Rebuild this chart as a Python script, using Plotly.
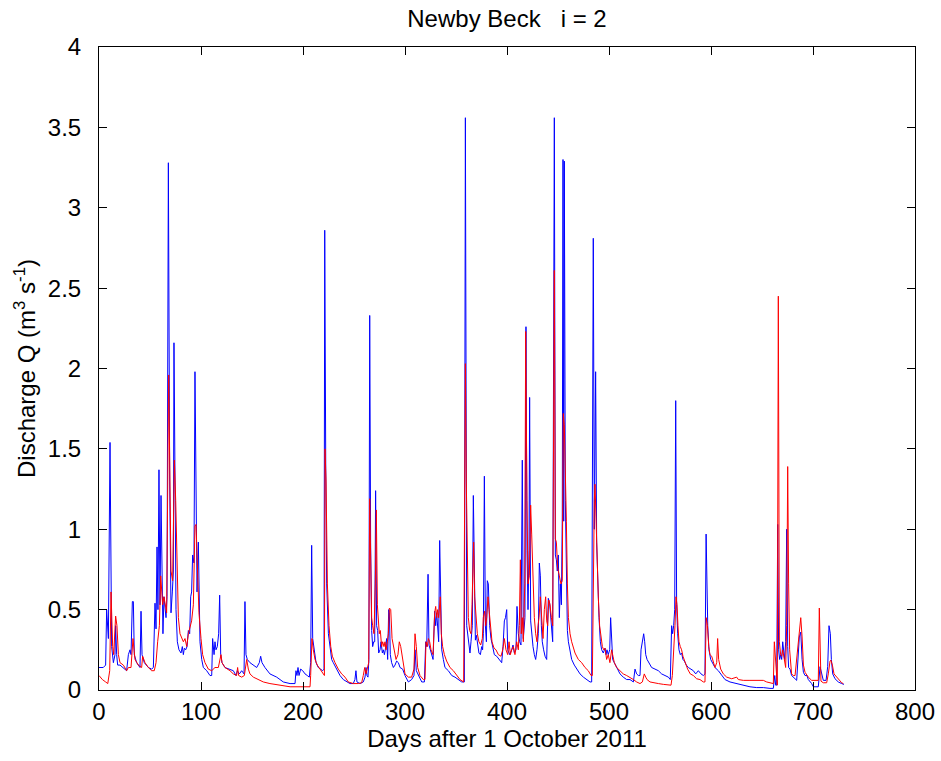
import plotly.graph_objects as go

# ---- data (day after 1 Oct 2011, discharge m3/s) ----
blue_day = [0, 4.2, 6.5, 7.5, 9.2, 10.8, 12.4, 14.1, 15.7, 16.3, 17.3, 18.3, 20.6, 23.9, 27.1, 28.8, 30.4, 31.4,
            32.7, 33.7, 34.6, 36.9, 40.2, 41.2, 42.2, 44.4, 48.4, 51.6, 53.3, 54.9, 55.9, 56.9, 57.8, 58.8, 59.8,
            60.8, 61.8, 62.7, 63.7, 64.7, 65.7, 66.7, 68.0, 69.3, 70.6, 71.9, 72.9, 73.5, 74.5, 75.5, 76.8, 78.4,
            80.4, 81.7, 82.7, 83.7, 85, 86.3, 87.6, 88.9, 89.9, 90.8, 91.8, 93.1, 94.1, 95.1, 96.1, 97.4, 99,
            100.7, 102.3, 105.6, 108.8, 110.5, 111.4, 112.8, 113.7, 114.7, 116, 117.3, 118.3, 119.3, 120.6, 123.5,
            128.4, 131.7, 134.3, 135.6, 137.6, 139.9, 142.2, 143.1, 144.1, 145.4, 148, 151.3, 154.6, 157.2, 158.5,
            159.8, 162.7, 167.6, 174.2, 180.7, 187.3, 192.2, 193.1, 194.1, 195.1, 196.1, 197.7, 199.7, 202, 204.2,
            206.2, 207.5, 208.5, 209.5, 210.8, 212.8, 215, 217.3, 219.3, 220.6, 221.3, 222.3, 223.2, 224.9, 226.5,
            228.1, 229.7, 233, 236.3, 239.5, 242.8, 246, 249.3, 250.9, 251.9, 252.9, 255.9, 259.1, 260.8, 261.8,
            262.7, 263.7, 264.6, 265.4, 266.3, 267.3, 268.3, 269.3, 270.3, 271.2, 272.2, 273.2, 274.2, 275.5, 276.5,
            277.8, 278.8, 279.8, 280.7, 282, 283, 284, 284.7, 285.6, 286.9, 288.6, 290.2, 291.8, 293.5, 295.1,
            297.7, 300, 303.3, 306.5, 308.8, 309.8, 311.1, 313.1, 316.4, 319, 320.3, 321.3, 322.6, 323.5, 324.8,
            326.1, 327.5, 329.1, 330.1, 331.1, 332, 333, 334, 335, 336, 337.6, 339.2, 342.5, 345.8, 349, 352.3,
            355.6, 358.2, 359.2, 360.5, 362.1, 363.7, 364.7, 366, 367, 368, 369, 370, 371.3, 372.5, 373.9, 375.2,
            376.1, 376.8, 377.8, 378.8, 379.8, 380.7, 381.7, 383, 384.3, 386, 387.6, 389.9, 392.5, 394.8, 396.1,
            397.4, 398.5, 399.7, 400.7, 402.6, 404.6, 405.9, 407.2, 408.8, 409.8, 411.1, 412.4, 413.7, 415, 416,
            417.6, 418.6, 419.6, 420.6, 421.6, 422.2, 423.2, 424.2, 425.5, 426.8, 428.1, 429.4, 430.7, 431.7, 432.7,
            433.7, 434.6, 435.9, 437.3, 438.9, 440.5, 441.8, 442.8, 443.8, 444.8, 446.4, 447.4, 448.4, 449.3, 450.3,
            451.3, 452.3, 453.3, 454.2, 454.9, 455.6, 456.2, 457.2, 458.2, 459.2, 460.2, 461.8, 463.4, 466, 468.3,
            471.6, 474.9, 478.1, 481.4, 483, 484.6, 485.6, 486.9, 487.9, 488.9, 490.2, 491.5, 492.8, 494.4, 496.1,
            497.1, 498, 499.3, 500.7, 501.6, 502.6, 503.6, 505.2, 507.5, 510.8, 514, 517.3, 520.6, 523.9, 525.5,
            527.1, 528.8, 530.4, 531.4, 532.7, 534, 535, 536, 537.3, 539.2, 541.8, 545.1, 548.4, 551.6, 554.9,
            558.2, 560.1, 561.4, 562.4, 563.4, 564.4, 565.4, 566.3, 567.3, 568.6, 569.9, 571.2, 572.5, 573.9, 575.8,
            577.8, 580.4, 582.7, 585, 587.6, 590.2, 592.5, 594.1, 595.2, 596.8, 598, 599.7, 601.6, 603.9, 607.2,
            610.5, 613.7, 618.6, 625.2, 631.7, 638.2, 644.8, 651.3, 657.8, 661.1, 662.5, 663.4, 664.4, 665.4, 666.3,
            667.3, 668.3, 669.3, 670.3, 671.2, 672.2, 673.2, 674.2, 675.2, 676.1, 677.5, 679, 682.4, 684, 686.6,
            688, 689.3, 690.6, 692.2, 694, 695.4, 698.7, 700.3, 705.2, 706.9, 708.5, 710.1, 712.8, 714.4, 715.7,
            717, 718, 719.3, 721.6, 724.8, 728.1, 730.4]
blue_q = [0.14, 0.14, 0.155, 0.5, 0.32, 1.54, 0.27, 0.17, 0.22, 0.4, 0.22, 0.155, 0.155, 0.14, 0.12, 0.22, 0.25, 0.22,
          0.55, 0.55, 0.22, 0.17, 0.14, 0.49, 0.22, 0.17, 0.14, 0.13, 0.14, 0.54, 0.38, 0.89, 0.5, 1.37, 0.53,
          1.21, 0.48, 0.35, 0.58, 0.5, 0.45, 0.58, 3.28, 1.3, 0.48, 0.61, 0.74, 2.16, 0.95, 0.5, 0.3, 0.25,
          0.23, 0.27, 0.22, 0.26, 0.25, 0.27, 0.37, 0.35, 0.58, 0.61, 0.84, 0.79, 1.98, 1.28, 0.61, 0.92, 0.3,
          0.19, 0.14, 0.12, 0.09, 0.09, 0.32, 0.22, 0.3, 0.25, 0.27, 0.35, 0.59, 0.22, 0.17, 0.14,
          0.13, 0.12, 0.09, 0.12, 0.1, 0.12, 0.1, 0.55, 0.22, 0.19, 0.17, 0.155, 0.14, 0.17, 0.21,
          0.17, 0.14, 0.1, 0.08, 0.05, 0.04, 0.04, 0.12, 0.09, 0.14, 0.09, 0.13, 0.12, 0.1, 0.09,
          0.08, 0.17, 0.9, 0.32, 0.25, 0.17, 0.14, 0.13, 0.12, 0.13, 2.86, 1.38, 0.66, 0.35, 0.25,
          0.19, 0.17, 0.13, 0.09, 0.065, 0.05, 0.04, 0.04, 0.065, 0.12, 0.05, 0.04, 0.05, 0.08, 0.14,
          0.09, 0.08, 0.19, 2.33, 0.92, 0.37, 0.27, 0.3, 0.3, 1.24, 0.4, 0.37, 0.23, 0.25, 0.3,
          0.23, 0.25, 0.22, 0.25, 0.32, 0.19, 0.5, 0.48, 0.22, 0.17, 0.14, 0.155, 0.18, 0.17, 0.14,
          0.13, 0.09, 0.05, 0.065, 0.09, 0.25, 0.12, 0.09, 0.05, 0.05, 0.3, 0.27, 0.72, 0.28, 0.25,
          0.22, 0.19, 0.49, 0.4, 0.48, 0.35, 0.3, 0.93, 0.4, 0.25, 0.19, 0.14, 0.12, 0.09, 0.08, 0.065,
          0.05, 0.05, 3.56, 0.4, 0.3, 0.23, 0.3, 0.4, 1.21, 0.56, 0.31, 0.34, 0.27, 0.23, 0.22, 0.27,
          0.25, 0.35, 1.33, 0.4, 0.3, 0.68, 0.66, 0.4, 0.32, 0.26, 0.22, 0.21, 0.19, 0.17, 0.27,
          0.43, 0.45, 0.5, 0.25, 0.22, 0.25, 0.28, 0.23, 0.25, 0.52, 0.35, 0.3, 0.28, 1.43, 0.32,
          0.45, 2.26, 0.87, 0.5, 0.87, 1.82, 0.43, 0.34, 0.27, 0.22, 0.19, 0.25, 0.35, 0.79, 0.71,
          0.4, 0.3, 0.25, 0.21, 0.19, 0.57, 0.54, 0.45, 0.35, 0.3, 3.56, 0.84, 0.81, 0.74, 0.84,
          0.45, 0.66, 0.53, 1.07, 3.3, 1.05, 3.29, 1.18, 0.66, 0.37, 0.3, 0.23, 0.19, 0.155, 0.13,
          0.1, 0.08, 0.065, 0.05, 0.05, 2.81, 1.0, 1.98, 0.92, 0.66, 0.45, 0.3, 0.25, 0.23, 0.26,
          0.22, 0.25, 0.22, 0.25, 0.45, 0.25, 0.19, 0.17, 0.14, 0.1, 0.08, 0.065, 0.065, 0.05, 0.13,
          0.1, 0.09, 0.09, 0.25, 0.3, 0.35, 0.3, 0.22, 0.19, 0.17, 0.14, 0.13, 0.12, 0.1, 0.09,
          0.08, 0.065, 0.4, 0.35, 0.4, 0.5, 1.8, 0.53, 0.35, 0.25, 0.22, 0.23, 0.19, 0.18, 0.155,
          0.14, 0.13, 0.12, 0.1, 0.12, 0.1, 0.09, 0.1, 0.97, 0.4, 0.25, 0.19, 0.17, 0.14, 0.12,
          0.09, 0.065, 0.05, 0.04, 0.03, 0.02, 0.015, 0.015, 0.01, 0.01, 0.09, 0.03, 0.03, 1.03, 0.25,
          0.19, 0.22, 0.19, 0.3, 0.22, 0.19, 0.3, 1.0, 0.27, 0.14, 0.13, 0.09, 0.07, 0.06, 0.33,
          0.36, 0.19, 0.11, 0.09, 0.09, 0.065, 0.04, 0.02, 0.02, 0.145, 0.09, 0.06, 0.06, 0.145, 0.4,
          0.35, 0.19, 0.1, 0.07, 0.05, 0.04, 0.035]

red_day = [0, 3.3, 6.5, 8.6, 10.5, 11.8, 13.4, 14.4, 16.3, 17.6, 19, 20.6, 23.9, 27.1, 28.8, 31.4, 33.3, 35.3, 38.6,
           41.8, 42.8, 45.1, 48.4, 51.6, 54.2, 55.9, 57.5, 59.2, 60.5, 61.4, 62.4, 63.7, 65.4, 66.3, 68.3, 69.3,
           70.6, 72.2, 73.9, 75.2, 76.5, 77.8, 79.4, 81.1, 82.7, 84.3, 86, 87.6, 89.2, 90.8, 92.5, 94.1, 95.1,
           96.4, 98, 100, 101.6, 103.9, 107.2, 110.5, 113.7, 117, 118.6, 119.6, 120.6, 123.5, 128.4, 131.7, 134.9,
           135.9, 136.9, 139.9, 142.5, 143.8, 144.8, 146.4, 148, 151.3, 156.2, 161.1, 167.6, 177.5, 187.3, 197.1,
           206.9, 207.5, 208.8, 210.1, 211.8, 214, 216.7, 219.9, 221, 221.6, 222.6, 223.9, 225.5, 227.2, 228.8,
           231.4, 234.6, 237.9, 241.2, 244.4, 249.3, 254.2, 257.5, 259.1, 260.5, 261.8, 263.4, 264.4, 265.4, 266.3,
           267.3, 268.3, 269.6, 270.9, 271.9, 272.9, 273.9, 274.8, 275.8, 277.1, 278.1, 279.4, 280.4, 281.4, 282.7,
           283.7, 284.7, 286, 287.3, 289.2, 291.2, 293.1, 294.4, 295.8, 297.1, 299, 300, 303.3, 306.5, 308.8,
           309.8, 311.1, 312.4, 314.7, 318, 319.6, 320.6, 321.9, 322.9, 324.2, 325.5, 327.5, 329.1, 330.1, 331.1,
           332, 333, 334.6, 335.6, 336.9, 338.6, 340.8, 344.1, 347.4, 350.6, 353.9, 357.5, 359.2, 360.1, 361.1,
           362.1, 363.4, 364.7, 365.7, 367.3, 368.3, 369.6, 370.9, 372.5, 374.2, 375.8, 376.8, 378.1, 379.1, 380.1,
           381.4, 382.4, 383.7, 385.3, 387.3, 389.2, 391.5, 394.1, 395.8, 397.4, 399, 400.7, 402, 403.3, 404.6,
           406.2, 407.8, 409.5, 411.1, 412.1, 413.1, 414, 415, 416, 417.4, 418.3, 419.6, 420.6, 421.9, 423.2, 424.2,
           425.5, 426.8, 428.1, 429.4, 430.4, 431.4, 432.7, 434, 435.3, 436.6, 437.9, 438.9, 439.9, 440.9, 442.2,
           443.5, 444.8, 446.4, 447.4, 448.4, 449.7, 451.3, 452.9, 454.2, 455.2, 456.2, 457.2, 458.2, 459.2, 460.2,
           461.8, 463.4, 466.7, 469.9, 473.2, 476.5, 479.7, 482.4, 483.7, 484.6, 485.6, 486.3, 487.3, 488.2, 489.5,
           490.8, 492.2, 493.5, 494.8, 496.1, 497.7, 499.3, 500.9, 502.6, 503.9, 505.2, 507.5, 510.8, 514, 517.3,
           520.6, 523.9, 527.1, 530.4, 532.7, 534.6, 536, 537.3, 540.2, 543.5, 548.4, 553.3, 558.2, 560.8, 562.1,
           563.4, 564.7, 565.7, 566.7, 567.6, 568.6, 569.9, 571.2, 572.5, 574.5, 577.1, 579.7, 582.7, 585.9, 589.2,
           592.5, 594.1, 595.3, 596.5, 597.8, 599, 600.7, 602.3, 603.9, 605.6, 606.5, 607.5, 609.5, 612.1, 615.4,
           620.3, 625.2, 626.8, 631.7, 638.2, 644.8, 651.3, 654.6, 659.5, 661.1, 662.1, 663.1, 664.1, 665, 666, 667,
           668.3, 669.3, 670.3, 671.2, 672.2, 673.2, 674.2, 675.2, 676.1, 677.1, 679, 680.7, 682.4, 684.6, 686.5,
           688, 689.3, 690.6, 692.2, 695.4, 698.7, 702, 705.2, 706.2, 707.2, 707.8, 710.1, 713.4, 715, 716.7, 717.6,
           719, 720.6, 723.2, 725.8, 728.1, 729.7]
red_q = [0.09, 0.065, 0.05, 0.04, 0.12, 0.61, 0.27, 0.22, 0.46, 0.4, 0.22, 0.17, 0.155, 0.12, 0.14, 0.14, 0.32, 0.19, 0.155,
         0.14, 0.21, 0.17, 0.14, 0.12, 0.12, 0.17, 0.3, 0.4, 0.71, 0.61, 0.53, 0.58, 0.5, 0.48, 1.96, 1.28,
         0.74, 0.68, 1.43, 1.18, 0.79, 0.45, 0.35, 0.32, 0.3, 0.32, 0.27, 0.35, 0.4, 0.43, 0.53, 1.02, 1.03,
         0.76, 0.48, 0.32, 0.22, 0.17, 0.13, 0.12, 0.14, 0.14, 0.19, 0.22, 0.17, 0.14, 0.12, 0.1, 0.09,
         0.14, 0.09, 0.08, 0.09, 0.14, 0.19, 0.13, 0.1, 0.08, 0.065, 0.05, 0.04, 0.03, 0.02, 0.02,
         0.02, 0.09, 0.32, 0.25, 0.19, 0.155, 0.13, 0.1, 0.09, 1.5, 1.3, 0.66, 0.4, 0.27, 0.21,
         0.17, 0.13, 0.1, 0.08, 0.05, 0.04, 0.04, 0.045, 0.09, 0.14, 0.1, 0.14, 0.17, 1.19, 0.74,
         0.45, 0.4, 0.35, 0.66, 1.12, 0.53, 0.45, 0.35, 0.37, 0.27, 0.3, 0.27, 0.3, 0.25, 0.3,
         0.35, 0.51, 0.5, 0.32, 0.25, 0.19, 0.22, 0.3, 0.27, 0.21, 0.155, 0.1, 0.08, 0.08, 0.13,
         0.35, 0.27, 0.14, 0.09, 0.065, 0.065, 0.3, 0.27, 0.32, 0.3, 0.25, 0.22, 0.48, 0.52, 0.45,
         0.5, 0.45, 0.58, 0.35, 0.27, 0.22, 0.18, 0.14, 0.12, 0.09, 0.065, 0.05, 2.03, 1.3, 0.66,
         0.45, 0.37, 0.35, 0.53, 0.92, 0.58, 0.43, 0.35, 0.3, 0.28, 0.32, 0.45, 0.49, 0.4, 0.45,
         0.58, 0.5, 0.39, 0.3, 0.26, 0.25, 0.22, 0.21, 0.25, 0.32, 0.25, 0.22, 0.3, 0.22, 0.25,
         0.27, 0.22, 0.3, 0.25, 0.4, 0.81, 0.35, 0.45, 0.3, 0.66, 2.23, 1.18, 0.66, 0.71, 1.15, 0.97,
         0.71, 0.45, 0.35, 0.3, 0.4, 0.45, 0.58, 0.4, 0.32, 0.5, 0.58, 0.43, 0.4, 0.56, 0.53,
         0.45, 0.4, 2.61, 0.94, 0.92, 0.76, 0.71, 0.66, 0.68, 1.72, 1.65, 1.43, 1.05, 0.66, 0.45,
         0.35, 0.3, 0.23, 0.19, 0.17, 0.14, 0.12, 0.09, 0.09, 0.79, 1.18, 1.28, 1.05, 0.79, 0.58,
         0.4, 0.32, 0.27, 0.25, 0.26, 0.19, 0.22, 0.17, 0.25, 0.21, 0.17, 0.14, 0.12, 0.1, 0.09,
         0.08, 0.065, 0.05, 0.04, 0.05, 0.1, 0.08, 0.065, 0.05, 0.045, 0.04, 0.035, 0.03, 0.03, 0.09,
         0.22, 0.4, 0.58, 0.53, 0.4, 0.3, 0.27, 0.25, 0.21, 0.17, 0.13, 0.1, 0.09, 0.07, 0.065,
         0.05, 0.05, 0.45, 0.4, 0.27, 0.22, 0.21, 0.17, 0.14, 0.17, 0.32, 0.19, 0.13, 0.1, 0.08,
         0.07, 0.08, 0.065, 0.06, 0.06, 0.06, 0.06, 0.05, 0.04, 0.04, 0.3, 0.22, 0.09, 0.03, 2.45, 0.3,
         0.22, 0.21, 0.25, 0.21, 0.19, 0.14, 0.4, 1.39, 0.66, 0.25, 0.1, 0.09, 0.09, 0.25, 0.35,
         0.45, 0.33, 0.155, 0.11, 0.08, 0.06, 0.06, 0.06, 0.51, 0.31, 0.055, 0.045, 0.045, 0.1, 0.18, 0.185,
         0.155, 0.1, 0.08, 0.06, 0.045, 0.04]

x_ticks = [0, 100, 200, 300, 400, 500, 600, 700, 800]
y_ticks = [0, 0.5, 1, 1.5, 2, 2.5, 3, 3.5, 4]

title_text = "Newby Beck\u00a0\u00a0\u00a0i = 2"
x_label = "Days after 1 October 2011"
y_label = "Discharge Q (m<sup>3</sup> s<sup>-1</sup>)"

FONT = "Arial, 'Liberation Sans', Helvetica, sans-serif"
FS = 24

fig = go.Figure()
fig.add_trace(go.Scatter(x=blue_day, y=blue_q, mode="lines",
                         line=dict(color="#0000ff", width=1), name="blue", hoverinfo="skip"))
fig.add_trace(go.Scatter(x=red_day, y=red_q, mode="lines",
                         line=dict(color="#ff0000", width=1), name="red", hoverinfo="skip"))

fig.update_layout(
    width=941, height=761,
    margin=dict(l=99, r=26, t=47, b=71, autoexpand=False),
    paper_bgcolor="white", plot_bgcolor="white",
    showlegend=False,
    font=dict(family=FONT, size=FS, color="black"),
    title=dict(text=title_text, x=0.5, xref="paper", xanchor="center",
               y=1 - 19 / 761, yref="container", yanchor="middle",
               font=dict(family=FONT, size=FS, color="black")),
)
axis_common = dict(showline=True, linecolor="black", linewidth=1, mirror="ticks",
                   ticks="inside", ticklen=8, tickwidth=1, tickcolor="black",
                   showgrid=False, zeroline=False, automargin=False,
                   tickfont=dict(family=FONT, size=FS, color="black"))
fig.update_xaxes(range=[0, 800], tickvals=x_ticks, ticktext=[str(v) for v in x_ticks],
                 ticklabelstandoff=0,
                 title=dict(text=x_label, standoff=3, font=dict(family=FONT, size=FS)),
                 **axis_common)
fig.update_yaxes(range=[0, 4], tickvals=y_ticks, ticktext=[f"{v:g}" for v in y_ticks],
                 ticklabelstandoff=12,
                 title=dict(text=y_label, standoff=5, font=dict(family=FONT, size=FS)),
                 **axis_common)

fig.write_html("out.html", config={"displayModeBar": False})
